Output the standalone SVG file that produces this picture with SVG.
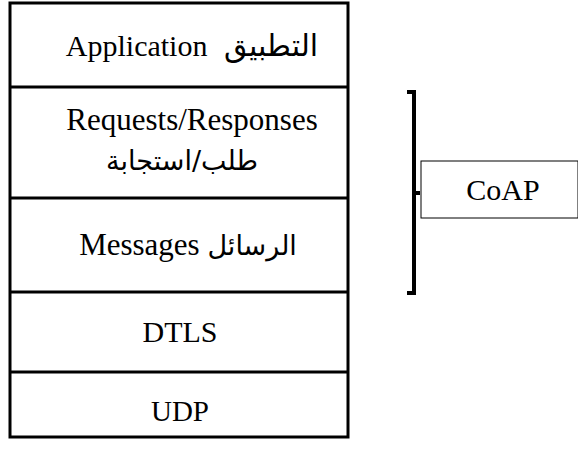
<svg xmlns="http://www.w3.org/2000/svg" width="578" height="450" viewBox="0 0 578 450">
<style>
.t{font-family:"Liberation Serif","DejaVu Sans",serif;font-size:30px;fill:#000;text-anchor:middle}
.ar{font-family:"DejaVu Sans",serif;font-size:27px}
.frame{fill:#fff;stroke:#000;stroke-width:3}
.div{stroke:#000;stroke-width:3}
.box{fill:#fff;stroke:#000;stroke-width:1}
.br{fill:none;stroke:#000;stroke-width:4}
</style>
<rect width="578" height="450" fill="#fff"/>
<g id="stack">
<rect class="frame" x="10" y="3" width="338" height="434"/>
</g>
<g id="application">
<text class="t" x="192" y="56">Application <tspan class="ar" dx="9" style="font-size:30px">التطبيق</tspan></text>
<line class="div" x1="10" y1="87" x2="348" y2="87"/>
</g>
<g id="requests">
<text class="t" x="192" y="130" style="font-size:31px">Requests/Responses</text>
<text class="t ar" x="182" y="170">طلب/استجابة</text>
<line class="div" x1="10" y1="198" x2="348" y2="198"/>
</g>
<g id="messages">
<text class="t" x="188" y="255" style="font-size:31px">Messages <tspan class="ar">الرسائل</tspan></text>
<line class="div" x1="10" y1="292" x2="348" y2="292"/>
</g>
<g id="dtls">
<text class="t" x="180" y="342">DTLS</text>
<line class="div" x1="10" y1="372" x2="348" y2="372"/>
</g>
<g id="udp">
<text class="t" x="180" y="421" style="font-size:29px">UDP</text>
</g>
<g id="coap">
<rect class="box" x="421" y="161" width="157" height="57"/>
<text class="t" x="503" y="200">CoAP</text>
</g>
<g id="connectors">
<path class="br" d="M407,92 H414 V293 H407 M414,193 H420"/>
</g>
</svg>
